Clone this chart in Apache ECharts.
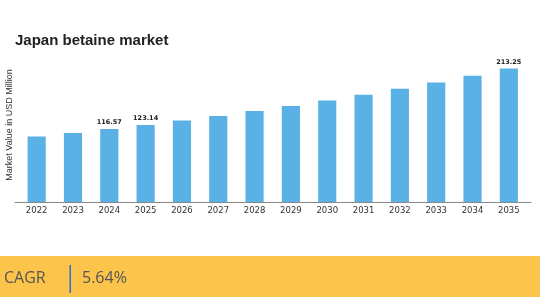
<!DOCTYPE html>
<html><head><meta charset="utf-8">
<script src="https://cdn.jsdelivr.net/npm/echarts@6/dist/echarts.min.js"></script>
<style>html,body{margin:0;padding:0;background:#fff;}#c{width:540px;height:297px;}</style>
</head><body><div id="c"></div>
<script>
const years = ['2022','2023','2024','2025','2026','2027','2028','2029','2030','2031','2032','2033','2034','2035'];
const marketValue = [104.5, 110.4, 116.57, 123.14, 130.1, 137.4, 145.2, 153.4, 162.0, 171.2, 180.8, 191.0, 201.8, 213.25];
const labelledYears = ['2024','2025','2035'];
const titleText = 'Japan betaine market';
const yAxisName = 'Market Value in USD Million';
const cagrLabel = 'CAGR';
const cagrValue = '5.64%';

const chart = echarts.init(document.getElementById('c'), null, {renderer:'canvas'});
chart.setOption({
  animation:false,
  title:{text:titleText,left:15,top:33,padding:0,textStyle:{fontFamily:'Liberation Sans',fontWeight:'bold',fontSize:15,color:'#222'}},
  grid:[
    {left:18.5,right:13,top:48,bottom:95,containLabel:false,outerBoundsMode:'none'},
    {left:15,right:9,top:48,bottom:95,containLabel:false,outerBoundsMode:'none'}
  ],
  xAxis:[
    {type:'category',data:years,gridIndex:0,axisLine:{show:false},axisTick:{show:false},
     axisLabel:{fontFamily:'DejaVu Sans',fontSize:8.5,color:'#333',margin:4}},
    {type:'value',gridIndex:1,min:0,max:1,axisLine:{show:true,lineStyle:{color:'#888',width:1}},
     axisTick:{show:false},axisLabel:{show:false},splitLine:{show:false}}
  ],
  yAxis:[
    {type:'value',gridIndex:0,min:0,max:246,show:true,axisLine:{show:false},axisTick:{show:false},
     axisLabel:{show:false},splitLine:{show:false},
     name:yAxisName,nameLocation:'middle',nameGap:4.5,
     nameTextStyle:{fontFamily:'Liberation Sans',fontSize:9,color:'#333'}},
    {type:'value',gridIndex:1,min:0,max:1,show:false}
  ],
  series:[{
    type:'bar',xAxisIndex:0,yAxisIndex:0,barWidth:'50%',
    data:marketValue.map((v,i)=>({value:v,label:{show:labelledYears.includes(years[i])}})),
    itemStyle:{color:'#5AB1E5'},
    label:{position:'top',distance:3,fontFamily:'DejaVu Sans',fontWeight:'bold',fontSize:6.5,color:'#222',
      formatter:p=>p.value.toFixed(2)}
  }],
  graphic:[
    {type:'rect',shape:{x:0,y:256,width:540,height:41},style:{fill:'#FDC44B'}},
    {type:'text',left:4,top:270,style:{text:cagrLabel,font:'16px "Open Sans"',fill:'#555'}},
    {type:'rect',shape:{x:69.5,y:265,width:1.5,height:28},style:{fill:'#2A6FD0'}},
    {type:'text',left:82,top:270,style:{text:cagrValue,font:'16px "Open Sans"',fill:'#555'}}
  ]
});
</script></body></html>
